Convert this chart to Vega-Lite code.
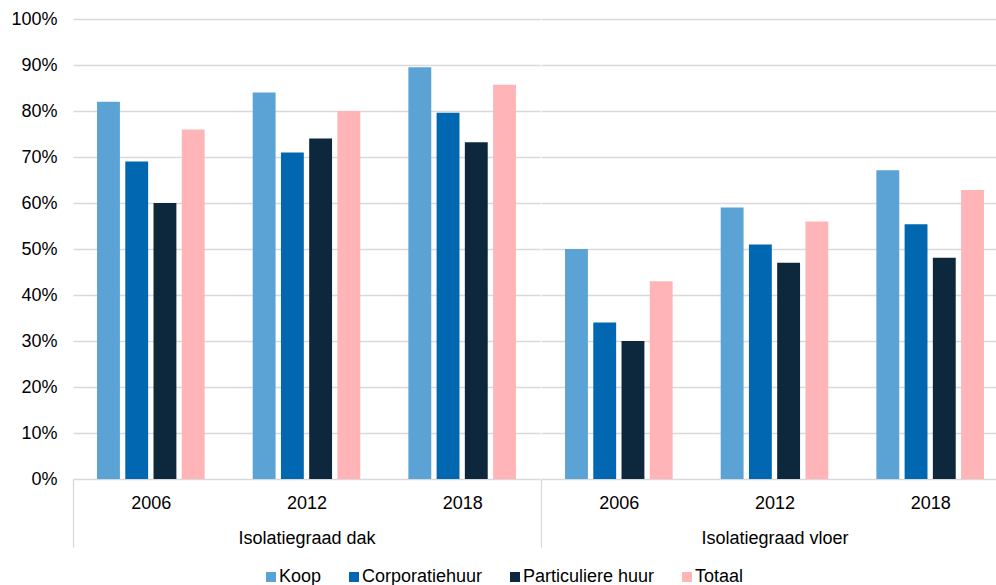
{
  "$schema": "https://vega.github.io/schema/vega-lite/v6.json",
  "autosize": {"type": "pad"},
  "padding": {"left": 10, "top": 10, "right": 0, "bottom": 0},
  "spacing": 0,
  "config": {
    "font": "Liberation Sans",
    "view": {"stroke": null},
    "axis": {"labelColor": "#000000", "labelFontSize": 18, "labelFont": "Liberation Sans"},
    "legend": {"labelColor": "#000000"}
  },
  "data": {
    "values": [
      {"cat": "Isolatiegraad dak", "year": "2006", "series": "Koop", "value": 82},
      {"cat": "Isolatiegraad dak", "year": "2006", "series": "Corporatiehuur", "value": 69},
      {"cat": "Isolatiegraad dak", "year": "2006", "series": "Particuliere huur", "value": 60},
      {"cat": "Isolatiegraad dak", "year": "2006", "series": "Totaal", "value": 76},
      {"cat": "Isolatiegraad dak", "year": "2012", "series": "Koop", "value": 84},
      {"cat": "Isolatiegraad dak", "year": "2012", "series": "Corporatiehuur", "value": 71},
      {"cat": "Isolatiegraad dak", "year": "2012", "series": "Particuliere huur", "value": 74},
      {"cat": "Isolatiegraad dak", "year": "2012", "series": "Totaal", "value": 80},
      {"cat": "Isolatiegraad dak", "year": "2018", "series": "Koop", "value": 89.5},
      {"cat": "Isolatiegraad dak", "year": "2018", "series": "Corporatiehuur", "value": 79.6},
      {"cat": "Isolatiegraad dak", "year": "2018", "series": "Particuliere huur", "value": 73.2},
      {"cat": "Isolatiegraad dak", "year": "2018", "series": "Totaal", "value": 85.7},
      {"cat": "Isolatiegraad vloer", "year": "2006", "series": "Koop", "value": 50},
      {"cat": "Isolatiegraad vloer", "year": "2006", "series": "Corporatiehuur", "value": 34},
      {"cat": "Isolatiegraad vloer", "year": "2006", "series": "Particuliere huur", "value": 30},
      {"cat": "Isolatiegraad vloer", "year": "2006", "series": "Totaal", "value": 43},
      {"cat": "Isolatiegraad vloer", "year": "2012", "series": "Koop", "value": 59},
      {"cat": "Isolatiegraad vloer", "year": "2012", "series": "Corporatiehuur", "value": 51},
      {"cat": "Isolatiegraad vloer", "year": "2012", "series": "Particuliere huur", "value": 47},
      {"cat": "Isolatiegraad vloer", "year": "2012", "series": "Totaal", "value": 56},
      {"cat": "Isolatiegraad vloer", "year": "2018", "series": "Koop", "value": 67.1},
      {"cat": "Isolatiegraad vloer", "year": "2018", "series": "Corporatiehuur", "value": 55.4},
      {"cat": "Isolatiegraad vloer", "year": "2018", "series": "Particuliere huur", "value": 48.1},
      {"cat": "Isolatiegraad vloer", "year": "2018", "series": "Totaal", "value": 62.8}
    ]
  },
  "hconcat": [
    {
      "width": 467,
      "height": 460,
      "transform": [{"filter": {"field": "cat", "equal": "Isolatiegraad dak"}}],
      "mark": {"type": "bar"},
      "encoding": {
        "x": {
          "field": "year",
          "type": "nominal",
          "scale": {"paddingInner": 0, "paddingOuter": 0, "range": [0, 467]},
          "axis": {
            "title": "Isolatiegraad dak",
            "titleFontSize": 18,
            "titleFontWeight": "normal",
            "titleFont": "Liberation Sans",
            "titleColor": "#000000",
            "titlePadding": -18,
            "labelAngle": 0,
            "domain": false,
            "tickSize": 68,
            "tickColor": "#D9D9D9",
            "tickWidth": 1.3,
            "tickOffset": -77.83,
            "labelOffset": 77.83,
            "tickOpacity": {"condition": {"test": "datum.index === 0", "value": 1}, "value": 0},
            "labelPadding": -53
          }
        },
        "xOffset": {
          "field": "series",
          "type": "nominal",
          "sort": ["Koop", "Corporatiehuur", "Particuliere huur", "Totaal"],
          "scale": {"paddingInner": 0.19, "paddingOuter": 0.851}
        },
        "y": {
          "field": "value",
          "type": "quantitative",
          "scale": {"domain": [0, 100], "nice": false},
          "axis": {
            "title": null,
            "values": [0, 10, 20, 30, 40, 50, 60, 70, 80, 90, 100],
            "labelExpr": "datum.value + '%'",
            "grid": true,
            "gridColor": "#D9D9D9",
            "gridWidth": 1.3,
            "domain": false,
            "ticks": false,
            "labelPadding": 16
          }
        },
        "color": {
          "field": "series",
          "type": "nominal",
          "sort": ["Koop", "Corporatiehuur", "Particuliere huur", "Totaal"],
          "scale": {
            "domain": ["Koop", "Corporatiehuur", "Particuliere huur", "Totaal"],
            "range": ["#5BA2D5", "#0067B0", "#0D283D", "#FFB5B7"]
          },
          "legend": {
            "title": null,
            "orient": "none",
            "direction": "horizontal",
            "legendX": 189,
            "legendY": 549,
            "symbolType": "square",
            "symbolSize": 100,
            "symbolStrokeWidth": 0,
            "labelFontSize": 18,
            "labelFont": "Liberation Sans",
            "columnPadding": 23,
            "labelOffset": -1
          }
        }
      }
    },
    {
      "width": 456,
      "height": 460,
      "transform": [{"filter": {"field": "cat", "equal": "Isolatiegraad vloer"}}],
      "mark": {"type": "bar"},
      "encoding": {
        "x": {
          "field": "year",
          "type": "nominal",
          "scale": {"paddingInner": 0, "paddingOuter": 0, "range": [0, 467]},
          "axis": {
            "title": "Isolatiegraad vloer",
            "titleFontSize": 18,
            "titleFontWeight": "normal",
            "titleFont": "Liberation Sans",
            "titleColor": "#000000",
            "titlePadding": -18,
            "labelAngle": 0,
            "domain": false,
            "tickSize": 68,
            "tickColor": "#D9D9D9",
            "tickWidth": 1.3,
            "tickOffset": -77.83,
            "labelOffset": 77.83,
            "tickOpacity": {"condition": {"test": "datum.index === 0", "value": 1}, "value": 0},
            "labelPadding": -53
          }
        },
        "xOffset": {
          "field": "series",
          "type": "nominal",
          "sort": ["Koop", "Corporatiehuur", "Particuliere huur", "Totaal"],
          "scale": {"paddingInner": 0.19, "paddingOuter": 0.851}
        },
        "y": {
          "field": "value",
          "type": "quantitative",
          "scale": {"domain": [0, 100], "nice": false},
          "axis": {
            "title": null,
            "values": [0, 10, 20, 30, 40, 50, 60, 70, 80, 90, 100],
            "labels": false,
            "grid": true,
            "gridColor": "#D9D9D9",
            "gridWidth": 1.3,
            "domain": false,
            "ticks": false
          }
        },
        "color": {
          "field": "series",
          "type": "nominal",
          "sort": ["Koop", "Corporatiehuur", "Particuliere huur", "Totaal"],
          "scale": {
            "domain": ["Koop", "Corporatiehuur", "Particuliere huur", "Totaal"],
            "range": ["#5BA2D5", "#0067B0", "#0D283D", "#FFB5B7"]
          },
          "legend": {
            "title": null,
            "orient": "none",
            "direction": "horizontal",
            "legendX": 189,
            "legendY": 549,
            "symbolType": "square",
            "symbolSize": 100,
            "symbolStrokeWidth": 0,
            "labelFontSize": 18,
            "labelFont": "Liberation Sans",
            "columnPadding": 23,
            "labelOffset": -1
          }
        }
      }
    }
  ]
}
